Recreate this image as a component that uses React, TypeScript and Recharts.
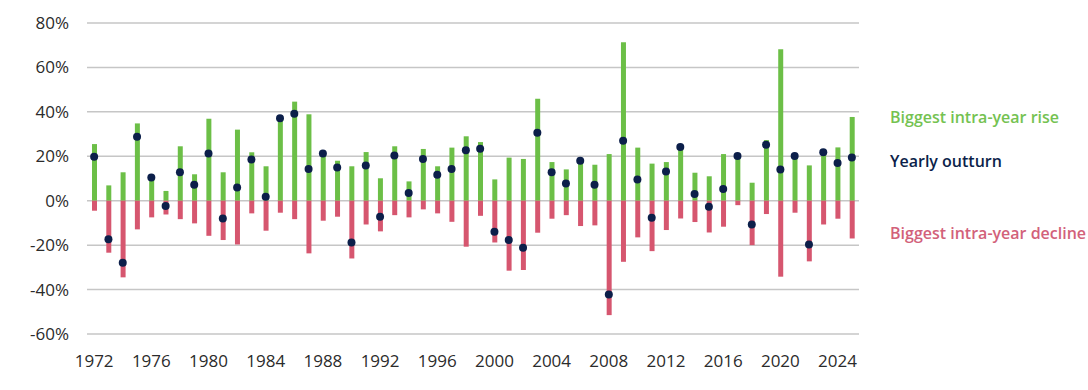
import { ComposedChart, Bar, Line, XAxis, YAxis, CartesianGrid } from "recharts";

// Yearly equity market swings, 1972-2025 (in %)
const years = [
  1972, 1973, 1974, 1975, 1976, 1977, 1978, 1979, 1980, 1981,
  1982, 1983, 1984, 1985, 1986, 1987, 1988, 1989, 1990, 1991,
  1992, 1993, 1994, 1995, 1996, 1997, 1998, 1999, 2000, 2001,
  2002, 2003, 2004, 2005, 2006, 2007, 2008, 2009, 2010, 2011,
  2012, 2013, 2014, 2015, 2016, 2017, 2018, 2019, 2020, 2021,
  2022, 2023, 2024, 2025,
];

const biggestRise = [
  25.5, 6.9, 12.8, 34.8, 10.5, 4.4, 24.5, 11.9, 36.9, 12.8,
  32, 21.8, 15.5, 37.8, 44.6, 38.9, 22, 18, 15.5, 21.9,
  10.1, 24.5, 8.7, 23.3, 15.5, 23.9, 29, 26.4, 9.6, 19.4,
  18.8, 45.9, 17.4, 14.1, 18.8, 16.2, 21, 71.3, 23.9, 16.7,
  17.4, 24.5, 12.6, 11, 21, 20.5, 8.1, 27.3, 68.2, 20.3,
  15.9, 22.2, 24, 37.7,
];

const biggestDecline = [
  -4.5, -23.4, -34.5, -12.9, -7.5, -6.2, -8.3, -10.2, -15.8, -17.7,
  -19.7, -5.7, -13.5, -5.4, -8.3, -23.7, -9, -7.2, -26, -10.7,
  -13.8, -6.5, -7.5, -3.9, -5.7, -9.5, -20.7, -6.8, -18.8, -31.5,
  -31.2, -14.4, -8.1, -6.5, -11.4, -11.1, -51.5, -27.5, -16.5, -22.7,
  -13.2, -8, -9.6, -14.3, -11.7, -2, -20, -6, -34.2, -5.4,
  -27.3, -10.7, -8.1, -17,
];

const yearlyOutturn = [
  19.8, -17.3, -27.9, 28.8, 10.4, -2.4, 12.8, 7.2, 21.3, -8,
  5.9, 18.5, 1.8, 37.1, 39.2, 14.3, 21.2, 14.9, -18.8, 15.9,
  -7.2, 20.4, 3.5, 18.8, 11.7, 14.3, 22.7, 23.4, -14, -17.7,
  -21.2, 30.6, 12.8, 7.7, 18, 7.2, -42.2, 27, 9.5, -7.7,
  13.2, 24.2, 3, -2.7, 5.3, 20.1, -10.7, 25.2, 14, 20.1,
  -19.7, 21.8, 17, 19.5,
];

const yTicks = [-60, -40, -20, 0, 20, 40, 60, 80];

const GREEN = "#6cbf47";
const RED = "#d6566f";
const NAVY = "#0c1f4a";
const FONT = "'Open Sans', 'Noto Sans', sans-serif";

const data = years.map((year, i) => ({
  year,
  rise: biggestRise[i],
  decline: biggestDecline[i],
  outturn: yearlyOutturn[i],
}));

const legendItems = [
  { label: "Biggest intra-year rise", color: "#74c251", top: 105 },
  { label: "Yearly outturn", color: NAVY, top: 149 },
  { label: "Biggest intra-year decline", color: "#d2617a", top: 221 },
];

export default function App() {
  return (
    <div style={{ position: "absolute", left: 0, top: 0, width: 1088, height: 390, background: "#fff", fontFamily: FONT }}>
      <ComposedChart
        width={1088}
        height={390}
        data={data}
        stackOffset="sign"
        margin={{ top: 23, right: 229, bottom: 26, left: 0 }}
      >
        <CartesianGrid vertical={false} stroke="#c6c6c6" strokeWidth={1.5} />
        <XAxis
          dataKey="year"
          interval={3}
          axisLine={false}
          tickLine={false}
          tickMargin={15}
          tick={{ fill: "#2b2b2b", fontSize: 17, fontFamily: FONT }}
        />
        <YAxis
          width={87}
          domain={[-60, 80]}
          ticks={yTicks}
          axisLine={false}
          tickLine={false}
          tickMargin={12}
          tickFormatter={(v) => `${v}%`}
          tick={{ fill: "#2b2b2b", fontSize: 17, fontFamily: FONT }}
        />
        <Bar dataKey="rise" stackId="a" fill={GREEN} barSize={5} isAnimationActive={false} />
        <Bar dataKey="decline" stackId="a" fill={RED} barSize={5} isAnimationActive={false} />
        <Line
          dataKey="outturn"
          stroke="none"
          dot={{ r: 4, fill: NAVY, stroke: "none" }}
          activeDot={false}
          isAnimationActive={false}
        />
      </ComposedChart>
      {legendItems.map((item) => (
        <div
          key={item.label}
          style={{
            position: "absolute",
            left: 890,
            top: item.top,
            color: item.color,
            fontSize: 16,
            fontWeight: 600,
            whiteSpace: "nowrap",
            lineHeight: "24px",
          }}
        >
          {item.label}
        </div>
      ))}
    </div>
  );
}
